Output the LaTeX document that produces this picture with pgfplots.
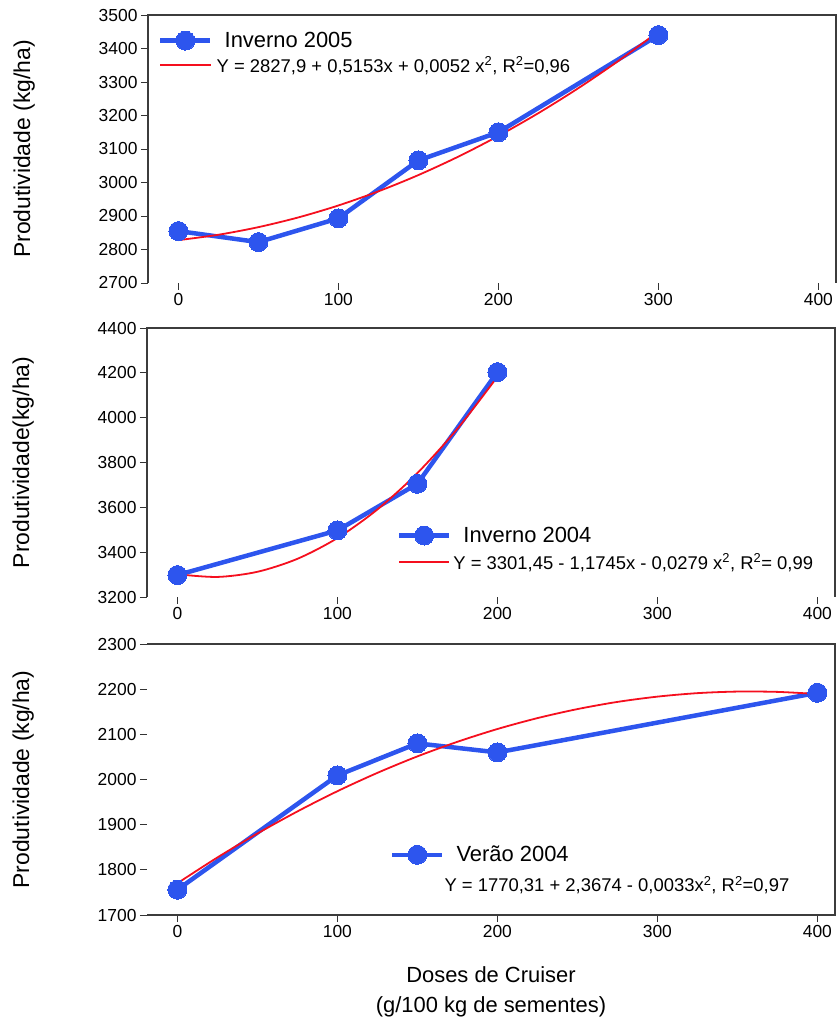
\documentclass[border=0pt]{standalone}
\usepackage{fontspec}
\setmainfont{Liberation Sans}
\usepackage{pgfplots}
\pgfplotsset{compat=1.18}
\definecolor{myblue}{RGB}{45,85,238}
\definecolor{myred}{RGB}{245,15,30}
\definecolor{frame}{RGB}{60,60,60}

\pgfplotsset{
  panel/.style={
    scale only axis, width=688bp, anchor=north west,
    axis line style={draw=none},
    xmin=-19, xmax=411,
    xtick={0,100,200,300,400},
    tick align=outside, major tick length=7bp,
    tick style={black!80, line width=0.8bp},
    xtick pos=bottom, ytick pos=left,
    /pgf/number format/assume math mode=true,
    /pgf/number format/1000 sep={},
    ticklabel style={font=\fontsize{17.5}{19}\selectfont},
    every axis y label/.style={at={(axis description cs:-0.18,0.5)}, rotate=90, anchor=center, font=\fontsize{23}{25}\selectfont},
    legend style={draw=none, fill=none, anchor=north west, inner sep=0pt,
      /tikz/every odd column/.append style={column sep=10bp}},
    legend cell align=left,
    legend image code/.code={\draw[mark repeat=2,mark phase=2,##1] plot coordinates {(0bp,0bp) (25bp,0bp) (50bp,0bp)};},
    clip=false,
  },
  dat/.style={myblue, line width=4.5bp, mark=*, mark size=9.5bp, mark options={fill=myblue, draw=myblue, line width=0pt}},
  fit/.style={myred, line width=1.8bp, smooth, no marks},
}
\newcommand{\lgA}{\fontsize{22}{24}\selectfont}
\newcommand{\lgB}{\fontsize{18.5}{20}\selectfont}

\begin{document}
\begin{tikzpicture}
\path[use as bounding box] (0,0) rectangle (839bp,-1023bp);

% Panel 1
\begin{axis}[panel, at={(148bp,-15bp)}, height=268bp,
  ymin=2700, ymax=3500, ytick={2700,2800,...,3500},
  ylabel={Produtividade (kg/ha)},
  legend style={at={(axis description cs:0.0145,0.944)}, row sep=4bp}]
\addplot[dat] coordinates {(0,2855) (50,2822) (100,2893) (150,3066) (200,3150) (300,3440)};
\addlegendentry{\lgA Inverno 2005}
\addplot[fit] coordinates {(0,2827.9) (25,2844.0) (50,2866.7) (75,2895.8) (100,2931.4) (125,2973.6) (150,3022.2) (175,3077.3) (200,3139.0) (225,3207.1) (250,3281.7) (275,3362.9) (300,3450.5)};
\addlegendentry{\hspace*{-8bp}\lgB Y = 2827,9 + 0,5153x + 0,0052 x\textsuperscript{2}, R\textsuperscript{2}=0,96}
\draw[frame, line width=1.5bp] (rel axis cs:0,0) -- (rel axis cs:0,1) -- (rel axis cs:1,1) -- (rel axis cs:1,0);
\end{axis}

% Panel 2
\begin{axis}[panel, at={(147bp,-328bp)}, height=269bp,
  ymin=3200, ymax=4400, ytick={3200,3400,...,4400},
  ylabel={Produtividade(kg/ha)},
  legend style={at={(axis description cs:0.363,0.268)}, row sep=6bp}]
\addplot[dat] coordinates {(0,3298) (100,3497) (150,3705) (200,4203)};
\addlegendentry{\lgA Inverno 2004}
\addplot[fit] coordinates {(0,3301.5) (25,3289.5) (50,3312.5) (75,3370.3) (100,3463.0) (125,3590.6) (150,3753.0) (175,3950.4) (200,4182.6)};
\addlegendentry{\hspace*{-10bp}\lgB Y = 3301,45 - 1,1745x - 0,0279 x\textsuperscript{2}, R\textsuperscript{2}= 0,99}
\draw[frame, line width=1.5bp] (rel axis cs:0,0) -- (rel axis cs:0,1) -- (rel axis cs:1,1) -- (rel axis cs:1,0);
\end{axis}

% Panel 3
\begin{axis}[panel, at={(147bp,-644bp)}, height=271bp,
  ymin=1700, ymax=2300, ytick={1700,1800,...,2300},
  ylabel={Produtividade (kg/ha)},
  xlabel={Doses de Cruiser\\(g/100 kg de sementes)},
  xlabel style={at={(axis description cs:0.5,-0.178)}, anchor=north, align=center, font=\fontsize{22}{30}\selectfont},
  legend style={at={(axis description cs:0.353,0.262)}, row sep=9bp}]
\addplot[dat] coordinates {(0,1756) (100,2009) (150,2080) (200,2060) (400,2192)};
\addlegendentry{\lgA Verão 2004}
\addplot[fit, legend image code/.code={}] coordinates {(0,1770.3) (25,1827.4) (50,1880.4) (75,1929.3) (100,1974.1) (125,2014.7) (150,2051.2) (175,2083.5) (200,2111.8) (225,2135.9) (250,2155.9) (275,2171.8) (300,2183.5) (325,2191.2) (350,2194.7) (375,2194.0) (400,2189.3)};
\addlegendentry{\hspace*{-12bp}\lgB Y = 1770,31 + 2,3674 - 0,0033x\textsuperscript{2}, R\textsuperscript{2}=0,97}
\draw[frame, line width=1.5bp] (rel axis cs:0,0) -- (rel axis cs:1,0) -- (rel axis cs:1,1) -- (rel axis cs:0,1);
\end{axis}
\end{tikzpicture}
\end{document}
